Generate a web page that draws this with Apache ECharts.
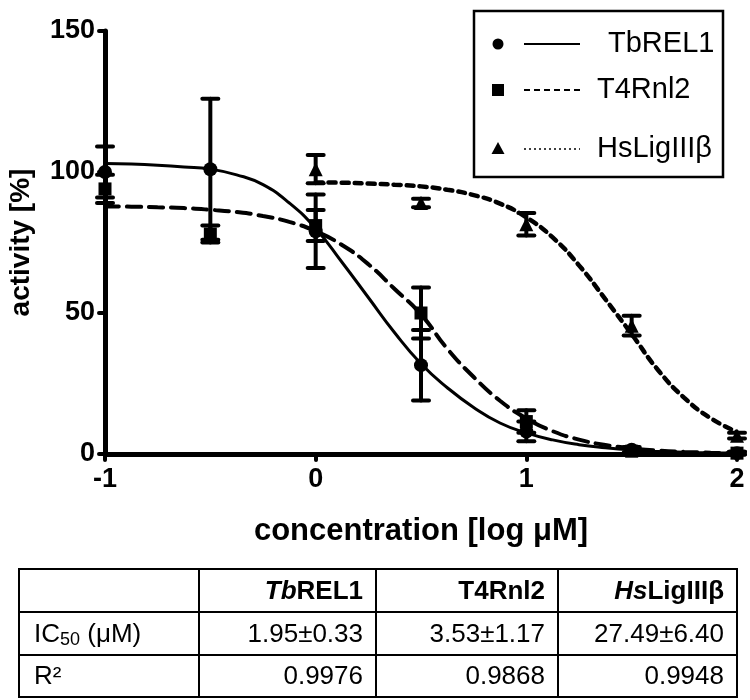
<!DOCTYPE html>
<html><head><meta charset="utf-8">
<script src="https://cdn.jsdelivr.net/npm/echarts@6/dist/echarts.min.js"></script>
<style>html,body{margin:0;padding:0;background:#fff}#c{width:750px;height:700px}</style>
</head><body><div id="c"></div>
<script>
// ---- measured data (log µM vs % activity) ----
const doses = [-1, -0.5, 0, 0.5, 1, 1.5, 2];
const tbrel1Mean = [100, 101, 79, 31.5, 8, 1.5, 0.3];
const tbrel1Err  = [9, 25, 13, 12.5, 3.5, 1, 0.5];
const t4rnl2Mean = [94, 78, 81, 50, 11.5, 1, 0.3];
const t4rnl2Err  = [5, 3, 5.5, 9, 4, 1, 0.5];
const hsDoses    = [0, 0.5, 1, 1.5, 2];
const hsMean     = [101, 89, 81.5, 45.5, 6.5];
const hsErr      = [5, 1.5, 4, 3.5, 1];

// ---- fitted curves ----
const curveX = [-1,-0.875,-0.75,-0.625,-0.5,-0.375,-0.25,-0.125,0,0.125,0.25,0.375,0.5,0.625,0.75,0.875,1,1.125,1.25,1.375,1.5,1.625,1.75,1.875,2];
const tbrel1Fit = [103,102.8,102.4,101.8,101,99,95.5,89,80,68,55.5,43,32,23.5,16.5,11,7.5,5,3.3,2.2,1.4,0.9,0.6,0.4,0.25];
const t4rnl2Fit = [87.8,87.7,87.5,87.2,86.6,85.8,84.4,82.3,79,74.1,67.3,58.5,49.5,37.3,27.3,18.9,12.6,8.1,5.1,3.2,2,1.2,0.75,0.46,0.28];
const hsCurveX  = [0,0.125,0.25,0.375,0.5,0.625,0.75,0.875,1,1.125,1.25,1.375,1.5,1.625,1.75,1.875,2];
const hsFit     = [96.3,96.2,95.9,95.5,94.9,93.7,91.8,88.8,83.9,76.8,66.9,54.9,42.5,29.8,19.9,12.7,7.8];

// ---- axis ticks ----
const xTicks = [-1, 0, 1, 2];
const yTicks = [0, 50, 100, 150];

// ---- legend + table text ----
const seriesNames = ['TbREL1', 'T4Rnl2', 'HsLigIIIβ'];
const tableHeader = ['{i|Tb}{b|REL1}', '{b|T4Rnl2}', '{i|Hs}{b|LigIIIβ}'];
const ic50Values  = ['1.95±0.33', '3.53±1.17', '27.49±6.40'];
const r2Values    = ['0.9976', '0.9868', '0.9948'];

const FONT = '"Liberation Sans", Arial, Helvetica, sans-serif';

function pairs(xs, ys) { return xs.map((x, i) => [x, ys[i]]); }

function errorSeries(name, xs, means, errs) {
  return {
    type: 'custom', name: name + ' err', clip: false, z: 3,
    data: xs.map((x, i) => [x, means[i] - errs[i], means[i] + errs[i]]),
    encode: { x: 0, y: [1, 2] },
    renderItem(params, api) {
      const x = api.value(0);
      const lo = api.coord([x, api.value(1)]);
      const hi = api.coord([x, api.value(2)]);
      const hw = 8;
      const st = { stroke: '#000', lineWidth: 4, lineCap: 'round' };
      return { type: 'group', children: [
        { type: 'line', shape: { x1: lo[0], y1: lo[1], x2: hi[0], y2: hi[1] }, style: st },
        { type: 'line', shape: { x1: lo[0] - hw, y1: lo[1], x2: lo[0] + hw, y2: lo[1] }, style: st },
        { type: 'line', shape: { x1: hi[0] - hw, y1: hi[1], x2: hi[0] + hw, y2: hi[1] }, style: st }
      ]};
    }
  };
}

function fitSeries(name, xs, ys, dash, width) {
  return {
    type: 'line', name: name + ' fit', data: pairs(xs, ys), smooth: true,
    showSymbol: false, symbol: 'none', z: 2, clip: false,
    lineStyle: { color: '#000', width: width, type: dash, cap: 'round', opacity: 1 }
  };
}

function pointSeries(name, xs, ys, symbol, size) {
  return {
    type: 'scatter', name: name, data: pairs(xs, ys), symbol: symbol, symbolSize: size,
    itemStyle: { color: '#000', opacity: 1 }, z: 4, clip: false
  };
}

// legend graphic
const legendRows = [44, 90, 149];
const legendDash = ['solid', [6, 4], [2, 3]];
const legendTextX = [608, 597, 597];
const legendGraphic = [
  { type: 'rect', shape: { x: 474, y: 11, width: 249, height: 166 }, style: { fill: '#fff', stroke: '#000', lineWidth: 2.5 }, z: 10 }
];
seriesNames.forEach((n, i) => {
  const y = legendRows[i];
  if (i === 0) legendGraphic.push({ type: 'circle', shape: { cx: 498, cy: y, r: 5.5 }, style: { fill: '#000' }, z: 11 });
  else if (i === 1) legendGraphic.push({ type: 'rect', shape: { x: 492, y: y - 6, width: 12, height: 12 }, style: { fill: '#000' }, z: 11 });
  else legendGraphic.push({ type: 'polygon', shape: { points: [[498, y - 7], [504.5, y + 5], [491.5, y + 5]] }, style: { fill: '#000' }, z: 11 });
  legendGraphic.push({ type: 'line', shape: { x1: 524, y1: y, x2: 580, y2: y }, style: { stroke: '#000', lineWidth: i === 2 ? 1.6 : 2, lineDash: legendDash[i] === 'solid' ? null : legendDash[i] }, z: 11 });
  legendGraphic.push({ type: 'text', x: legendTextX[i], y: y, style: { text: n, fontFamily: FONT, fontSize: 29, fill: '#000', align: 'left', verticalAlign: 'middle' }, z: 11 });
});

// table graphic
const colEdges = [19, 199, 376, 558, 737];
const rowEdges = [569, 612, 655, 697];
const tableGraphic = [];
tableGraphic.push({ type: 'rect', shape: { x: colEdges[0], y: rowEdges[0], width: colEdges[4] - colEdges[0], height: rowEdges[3] - rowEdges[0] }, style: { fill: 'none', stroke: '#000', lineWidth: 2 } });
[1, 2].forEach(r => tableGraphic.push({ type: 'line', shape: { x1: colEdges[0], y1: rowEdges[r], x2: colEdges[4], y2: rowEdges[r] }, style: { stroke: '#000', lineWidth: 2 } }));
[1, 2, 3].forEach(c => tableGraphic.push({ type: 'line', shape: { x1: colEdges[c], y1: rowEdges[0], x2: colEdges[c], y2: rowEdges[3] }, style: { stroke: '#000', lineWidth: 2 } }));
const richStyles = {
  i: { fontFamily: FONT, fontSize: 26, fontWeight: 'bold', fontStyle: 'italic', fill: '#000' },
  b: { fontFamily: FONT, fontSize: 26, fontWeight: 'bold', fill: '#000' },
  n: { fontFamily: FONT, fontSize: 26, fill: '#000' },
  s: { fontFamily: FONT, fontSize: 18, fill: '#000', padding: [12, 0, 0, 0] }
};
function cellText(text, c, r) {
  return { type: 'text', x: colEdges[c + 1] - 13, y: (rowEdges[r] + rowEdges[r + 1]) / 2 + 1,
    style: { text: text, rich: richStyles, fontFamily: FONT, fontSize: 26, fill: '#000', align: 'right', verticalAlign: 'middle' } };
}
tableHeader.forEach((t, c) => tableGraphic.push(cellText(t, c + 1, 0)));
ic50Values.forEach((t, c) => tableGraphic.push(cellText('{n|' + t + '}', c + 1, 1)));
r2Values.forEach((t, c) => tableGraphic.push(cellText('{n|' + t + '}', c + 1, 2)));
tableGraphic.push({ type: 'text', x: 34, y: (rowEdges[1] + rowEdges[2]) / 2 + 1, style: { text: '{n|IC}{s|50}{n| (μM)}', rich: richStyles, fontFamily: FONT, fontSize: 26, align: 'left', verticalAlign: 'middle' } });
tableGraphic.push({ type: 'text', x: 34, y: (rowEdges[2] + rowEdges[3]) / 2 + 1, style: { text: '{n|R²}', rich: richStyles, fontFamily: FONT, fontSize: 26, align: 'left', verticalAlign: 'middle' } });

const chart = echarts.init(document.getElementById('c'), null, { renderer: 'canvas' });
chart.setOption({
  animation: false,
  backgroundColor: '#fff',
  grid: { left: 105, right: 13, top: 31, bottom: 246, containLabel: false, outerBoundsMode: 'none' },
  xAxis: {
    type: 'value', min: xTicks[0], max: xTicks[xTicks.length - 1], interval: 1,
    name: 'concentration [log μM]', nameLocation: 'middle', nameGap: 62,
    nameTextStyle: { fontFamily: FONT, fontSize: 31, fontWeight: 'bold', color: '#000' },
    axisLine: { onZero: false, lineStyle: { color: '#000', width: 5 } },
    axisTick: { show: true, length: 6, lineStyle: { color: '#000', width: 4, cap: 'round' } },
    axisLabel: { margin: 12, fontFamily: FONT, fontSize: 27, fontWeight: 'bold', color: '#000' },
    splitLine: { show: false }
  },
  yAxis: {
    type: 'value', min: yTicks[0], max: yTicks[yTicks.length - 1], interval: 50,
    name: 'activity [%]', nameLocation: 'middle', nameGap: 70, nameRotate: 90,
    nameTextStyle: { fontFamily: FONT, fontSize: 28, fontWeight: 'bold', color: '#000' },
    axisLine: { show: true, onZero: false, lineStyle: { color: '#000', width: 5 } },
    axisTick: { show: true, length: 6, lineStyle: { color: '#000', width: 4, cap: 'round' } },
    axisLabel: { margin: 10, fontFamily: FONT, fontSize: 27, fontWeight: 'bold', color: '#000' },
    splitLine: { show: false }
  },
  series: [
    fitSeries(seriesNames[0], curveX, tbrel1Fit, 'solid', 3),
    fitSeries(seriesNames[1], curveX, t4rnl2Fit, [14, 8], 4),
    fitSeries(seriesNames[2], hsCurveX, hsFit, [7, 6], 4.5),
    errorSeries(seriesNames[0], doses, tbrel1Mean, tbrel1Err),
    errorSeries(seriesNames[1], doses, t4rnl2Mean, t4rnl2Err),
    errorSeries(seriesNames[2], hsDoses, hsMean, hsErr),
    pointSeries(seriesNames[0], doses, tbrel1Mean, 'circle', 14),
    pointSeries(seriesNames[1], doses, t4rnl2Mean, 'rect', 13),
    pointSeries(seriesNames[2], hsDoses, hsMean, 'triangle', 14)
  ],
  graphic: legendGraphic.concat(tableGraphic)
});
</script></body></html>
